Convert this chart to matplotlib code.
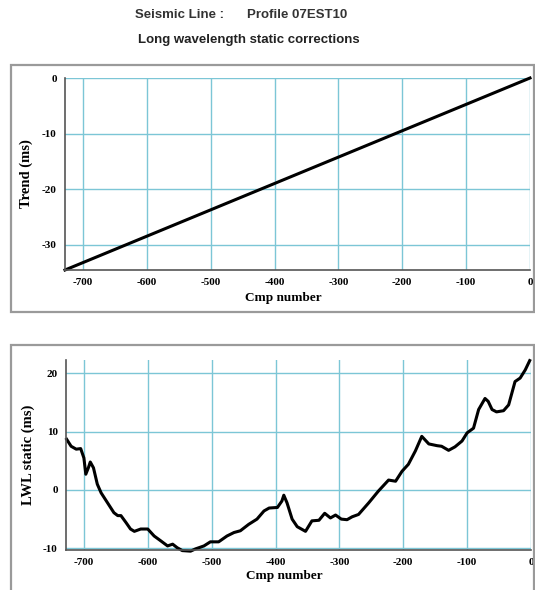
import matplotlib
matplotlib.use('Agg')
import matplotlib.pyplot as plt
import matplotlib.patches as patches
import matplotlib.ticker as plticker

# Trend line
trend_cmp = [-728, 0]
trend_ms = [-34.5, 0]

# Long wavelength static curve
lwl_cmp = [-727, -720, -712, -705, -700, -697, -693, -690, -685, -679, -673,
           -663, -653, -647, -642, -634, -627, -621, -611, -600, -590, -580,
           -569, -561, -554, -546, -533, -525, -512, -502, -489, -476, -465,
           -455, -442, -429, -418, -410, -397, -390, -387, -382, -374, -366,
           -353, -343, -332, -323, -314, -306, -297, -288, -280, -270, -254,
           -239, -223, -212, -202, -192, -181, -171, -160, -147, -140, -129,
           -119, -108, -100, -90, -82, -72, -67, -61, -54, -43, -35, -25,
           -17, -9, -2]
lwl_ms = [8.7, 7.5, 7.0, 7.1, 5.5, 2.7, 3.8, 4.8, 3.8, 1.0, -0.5,
          -2.2, -3.9, -4.4, -4.4, -5.6, -6.7, -7.1, -6.7, -6.7, -7.9, -8.7,
          -9.6, -9.3, -9.9, -10.4, -10.5, -10.1, -9.6, -8.9, -8.9, -7.9, -7.3,
          -7.0, -5.9, -5.0, -3.6, -3.1, -3.0, -1.9, -0.9, -2.2, -5.0, -6.3,
          -7.1, -5.3, -5.2, -4.0, -4.8, -4.3, -5.0, -5.1, -4.6, -4.2, -2.2,
          -0.2, 1.7, 1.5, 3.2, 4.4, 6.7, 9.2, 7.9, 7.6, 7.5, 6.8,
          7.4, 8.4, 9.8, 10.6, 13.8, 15.7, 15.2, 13.8, 13.4, 13.6, 14.6, 18.6,
          19.2, 20.6, 22.2]

x_ticks = [-700, -600, -500, -400, -300, -200, -100, 0]
trend_yticks = [0, -10, -20, -30]
lwl_yticks = [20, 10, 0, -10]

W, H = 535, 590
fig = plt.figure(figsize=(W / 100, H / 100), dpi=100)

grid_color = '#7cc6d6'
spine_color = '#555555'
frame_color = '#9a9a9a'
serif = 'Liberation Serif'
sans = 'Liberation Sans'

# Titles
fig.text(135 / W, 1 - 15 / H, 'Seismic Line :', ha='left', va='center',
         fontsize=9.5, fontweight='bold', family=sans, color='#333333')
fig.text(247 / W, 1 - 15 / H, 'Profile 07EST10', ha='left', va='center',
         fontsize=9.5, fontweight='bold', family=sans, color='#333333')
fig.text(249 / W, 1 - 40 / H, 'Long wavelength static corrections', ha='center',
         va='center', fontsize=9.5, fontweight='bold', family=sans,
         color='#222222')

# Outer frames
for (x0, y0, x1, y1) in [(11, 65, 534, 312), (11, 345, 534, 600)]:
    rect = patches.Rectangle((x0 / W, 1 - y1 / H), (x1 - x0) / W, (y1 - y0) / H,
                             transform=fig.transFigure, fill=False,
                             edgecolor=frame_color, linewidth=1.6)
    fig.patches.append(rect)


def style_axis(ax, yticks, ylabel, xlab_pos):
    ax.set_xlim(-728, 0)
    ax.xaxis.set_major_locator(plticker.FixedLocator(x_ticks))
    ax.yaxis.set_major_locator(plticker.FixedLocator(yticks))
    fmt = plticker.FuncFormatter(lambda v, p: '%d' % v)
    ax.xaxis.set_major_formatter(fmt)
    ax.yaxis.set_major_formatter(fmt)
    ax.grid(True, color=grid_color, linewidth=1.0)
    ax.set_axisbelow(True)
    for s in ['top', 'right']:
        ax.spines[s].set_visible(False)
    for s in ['left', 'bottom']:
        ax.spines[s].set_color(spine_color)
        ax.spines[s].set_linewidth(1.2)
    ax.tick_params(length=0, pad=6)
    for lab in ax.get_xticklabels() + ax.get_yticklabels():
        lab.set_family(serif)
        lab.set_fontweight('bold')
        lab.set_fontsize(8)
    ax.set_xlabel('Cmp number', family=serif, fontweight='bold', fontsize=9.5)
    ax.xaxis.set_label_coords(*xlab_pos)
    ax.set_ylabel(ylabel, family=serif, fontweight='bold', fontsize=10.5,
                  labelpad=6)


# Top panel: trend
ax1 = fig.add_axes([65 / W, 1 - 270 / H, 465 / W, 192 / H])
ax1.plot(trend_cmp, trend_ms, color='black', linewidth=2.2, clip_on=False)
ax1.set_ylim(-34.5, 0)
style_axis(ax1, trend_yticks, 'Trend (ms)', (0.469, -0.115))

# Bottom panel: LWL static
ax2 = fig.add_axes([66 / W, 1 - 550 / H, 465 / W, 190 / H])
ax2.plot(lwl_cmp, lwl_ms, color='black', linewidth=2.2, clip_on=False)
ax2.set_ylim(-10.3, 22.3)
style_axis(ax2, lwl_yticks, 'LWL static (ms)', (0.47, -0.105))

fig.savefig('out.png', dpi=100)
